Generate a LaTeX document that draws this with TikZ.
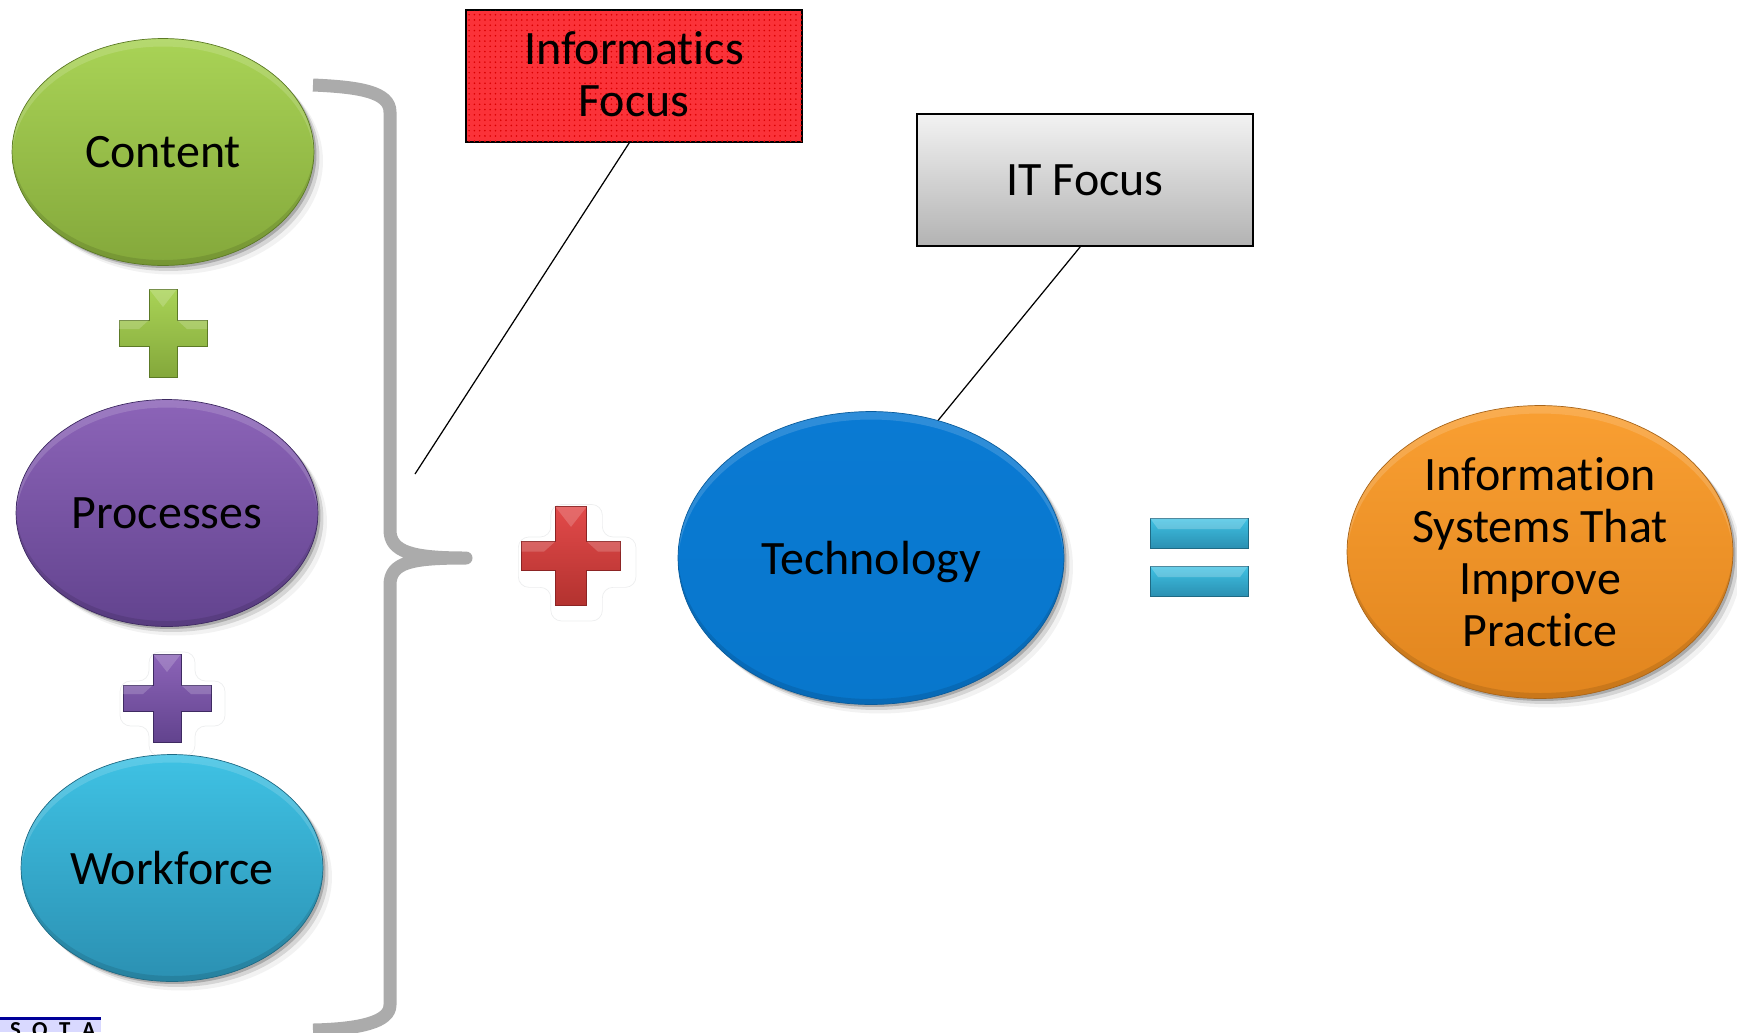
\documentclass[tikz,border=0pt]{standalone}
\usepackage{fontspec}
\setmainfont[Ligatures=NoCommon]{Carlito}
\usetikzlibrary{shapes.geometric,shadows,patterns}

\definecolor{greentop}{HTML}{A9D356}
\definecolor{greenlow}{HTML}{84A83B}
\definecolor{greenrim}{HTML}{5C7A26}
\definecolor{purpletop}{HTML}{8C64B8}
\definecolor{purplelow}{HTML}{62438E}
\definecolor{purplerim}{HTML}{3E2A62}
\definecolor{cyantop}{HTML}{3FC2E4}
\definecolor{cyanlow}{HTML}{2B90B2}
\definecolor{cyanrim}{HTML}{1F6A84}
\definecolor{bluetop}{HTML}{0A7AD3}
\definecolor{bluelow}{HTML}{0877CC}
\definecolor{bluerim}{HTML}{0A5C9C}
\definecolor{orangetop}{HTML}{F99F32}
\definecolor{orangelow}{HTML}{E1851E}
\definecolor{orangerim}{HTML}{A8651A}
\definecolor{redtop}{HTML}{E24A4A}
\definecolor{redlow}{HTML}{B3322F}
\definecolor{redrim}{HTML}{8C2424}
\definecolor{boxred}{HTML}{FB3239}

\begin{document}
\begin{tikzpicture}[
  x=0.02cm, y=-0.02cm,
  every node/.style={font=\fontsize{27.3}{29.6}\selectfont, align=center, text=black},
  softshadow/.style={
    drop shadow={shadow xshift=0.05cm, shadow yshift=-0.05cm, fill=black, opacity=0.2},
    drop shadow={shadow xshift=0.11cm, shadow yshift=-0.11cm, fill=black, opacity=0.12},
    drop shadow={shadow xshift=0.18cm, shadow yshift=-0.18cm, fill=black, opacity=0.05}},
  bevel/.style 2 args={path picture={
    \fill[white, opacity=0.15, even odd rule] (path picture bounding box.north west) rectangle (path picture bounding box.south east)
      ([yshift=-0.15cm]path picture bounding box.center) ellipse (#1 and #2);
    \fill[black, opacity=0.1, even odd rule] (path picture bounding box.north west) rectangle (path picture bounding box.south east)
      ([yshift=0.1cm]path picture bounding box.center) ellipse (#1 and #2);
  }},
  blob/.style={ellipse, inner sep=0pt, minimum width=6.04cm, minimum height=4.54cm, bevel={151}{113}, softshadow},
  bigblob/.style={ellipse, inner sep=0pt, minimum width=7.72cm, minimum height=5.86cm, bevel={193}{146}, softshadow},
  note/.style={rectangle, draw=black, line width=0.8pt, inner sep=0pt, minimum width=6.72cm, minimum height=2.64cm},
  plus/.pic={
    \draw[pic actions] (-14,-44) -- (14,-44) -- (14,-13) -- (44,-13) -- (44,13) -- (14,13)
      -- (14,44) -- (-14,44) -- (-14,13) -- (-44,13) -- (-44,-13) -- (-14,-13) -- cycle;
    \fill[white, opacity=0.18] (-14,-44) -- (14,-44) -- (0,-26) -- cycle;
    \fill[white, opacity=0.18] (-44,-13) -- (-14,-13) -- (-24,-4) -- (-44,-4) -- cycle;
    \fill[white, opacity=0.18] (44,-13) -- (14,-13) -- (24,-4) -- (44,-4) -- cycle;
  },
  plusglow/.pic={
    \draw[draw=cyan!12!black!8, fill=white, rounded corners=6pt] (-18,-46) -- (28,-46) -- (28,-17) -- (58,-17) -- (58,28) -- (28,28)
      -- (28,58) -- (-18,58) -- (-18,28) -- (-47,28) -- (-47,-17) -- (-18,-17) -- cycle;
  },
  bar/.pic={
    \draw[pic actions] (-49,-15) rectangle (49,15);
    \fill[white, opacity=0.22] (-49,-15) -- (49,-15) -- (41,-4) -- (-41,-4) -- cycle;
  },
  plusgreen/.style={top color=greentop, bottom color=greenlow, draw=greenrim, softshadow},
  pluspurple/.style={top color=purpletop, bottom color=purplelow, draw=purplerim, softshadow},
  plusred/.style={top color=redtop, bottom color=redlow, draw=redrim, softshadow},
  barcyan/.style={top color=cyantop, bottom color=cyanlow, draw=cyanrim, softshadow},
  bracket/.style={draw=black!33, line width=0.26cm, line join=round},
]
  \useasboundingbox (0,0) rectangle (1737,1032);

  % left column
  \pic at (167,698) {plusglow};
  \pic[pluspurple] at (167,698) {plus};
  \pic[plusgreen] at (163,333) {plus};

  \node[blob, top color=greentop, bottom color=greenlow, draw=greenrim] (content) at (163,152) {Content};
  \node[blob, top color=purpletop, bottom color=purplelow, draw=purplerim] (processes) at (167,513) {Processes};
  \node[blob, top color=cyantop, bottom color=cyanlow, draw=cyanrim] (workforce) at (172,868) {Workforce};

  \draw[bracket] (313,85) .. controls (360,87) and (390,92) .. (390,112) -- (390,530)
    .. controls (390,552) and (412,558) .. (466,558)
    .. controls (412,558) and (390,562) .. (390,585) -- (390,1005)
    .. controls (390,1022) and (360,1029) .. (313,1030);

  % middle and right
  \pic[scale=1.12] at (571,556) {plusglow};
  \pic[plusred, scale=1.12] at (571,556) {plus};
  \node[bigblob, text depth=0pt, top color=bluetop, bottom color=bluelow, draw=bluerim] (technology) at (871,558) {Technology};
  \pic[barcyan] at (1199,533) {bar};
  \pic[barcyan] at (1199,581) {bar};
  \node[bigblob, top color=orangetop, bottom color=orangelow, draw=orangerim] (practice) at (1540,552) {Information\\Systems That\\Improve\\Practice};

  % callouts
  \node[note, text depth=2.5pt, fill=boxred, postaction={pattern=dots, pattern color=red!85!black}] (informatics) at (634,76) {Informatics\\Focus};
  \node[note, top color=black!5, bottom color=black!30] (itfocus) at (1085,180) {IT Focus};
  \coordinate (bracetop) at (415,474);
  \draw[line width=0.7pt] (informatics.-94) -- (bracetop);
  \draw[line width=0.7pt] (itfocus.-94) -- (technology.64);

  % cut off logo
  \begin{scope}
    \clip (0,1017) rectangle (101,1032);
    \fill[blue!15!white] (0,1017) rectangle (101,1032);
    \fill[blue!60!black] (0,1017) rectangle (101,1020);
    \node[anchor=north east, inner sep=0pt, font=\fontsize{13}{13}\bfseries\selectfont] (logo) at (96,1022) {E\,\,\,S\,\,\,O\,\,\,T\,\,\,A};
  \end{scope}
\end{tikzpicture}
\end{document}
